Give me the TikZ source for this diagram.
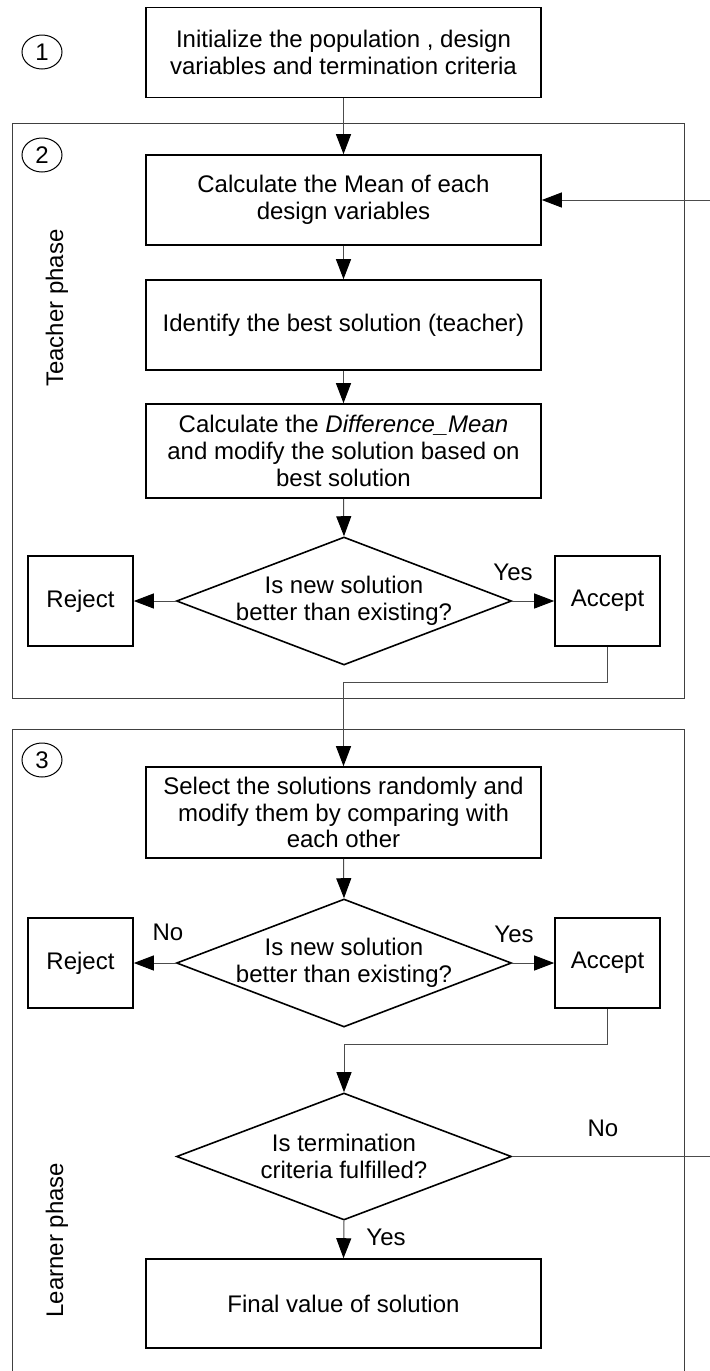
\documentclass[tikz,border=0pt]{standalone}
\usepackage{fontspec}
\setmainfont{Liberation Sans}
\usetikzlibrary{shapes.geometric,arrows.meta,calc}
\definecolor{conn}{gray}{0.3}
\definecolor{grp}{gray}{0.25}
\begin{document}
\begin{tikzpicture}[x=0.5pt,y=-0.5pt,
  txt/.style={font=\fontsize{12}{13.4}\selectfont},
  box/.style={txt,draw=black,line width=0.8pt,minimum width=197.5pt,minimum height=45pt,inner sep=0pt,align=center},
  small/.style={txt,draw=black,line width=0.8pt,minimum width=52.5pt,minimum height=45pt,inner sep=0pt},
  dec/.style={draw=black,line width=0.8pt,diamond,aspect=2.617,minimum width=167.5pt,minimum height=64pt,inner sep=0pt},
  dectext/.style={txt,align=center,inner sep=0pt},
  num/.style={txt,draw=black,line width=0.5pt,ellipse,minimum width=20pt,minimum height=17pt,inner sep=0pt},
  grpbox/.style={draw=grp,line width=0.5pt,minimum width=336pt,inner sep=0pt},
  arr/.style={draw=conn,line width=0.5pt,-{Triangle[length=10pt,width=7.5pt,color=black]}},
  plain/.style={draw=conn,line width=0.5pt},
  lbl/.style={txt,inner sep=0pt},
  phase/.style={rotate=90,inner sep=0pt,font=\fontsize{12}{14}\selectfont}
]
\clip (0,0) rectangle (710,1371);
\fill[white] (0,0) rectangle (710,1371);

% group frames
\node[grpbox,minimum height=287.5pt] (g2) at (348,410.5) {};
\node[grpbox,minimum height=330pt] (g3) at (348,1059) {};

% step numbers
\node[num] (n1) at (42,52) {1};
\node[num] (n2) at (42,155) {2};
\node[num] (n3) at (42,760) {3};

% phase labels
\node[phase] (tp) at (57,308) {Teacher phase};
\node[phase] (lp) at (57,1240) {Learner phase};

% main boxes
\node[box] (init) at (343.5,52.5) {Initialize the population , design\\variables and termination criteria};
\node[box] (mean) at (343.5,200) {Calculate the Mean of each\\design variables};
\node[box] (best) at (343.5,325) {Identify the best solution (teacher)};
\node[box,minimum height=47pt] (diff) at (343.5,451) {Calculate the \textit{Difference\_Mean}\\and modify the solution based on\\best solution};
\node[dec,label={[dectext]center:{Is new solution\\better than existing?}}] (d1) at (344,601) {};
\node[small] (rej1) at (80.5,601) {Reject};
\node[small] (acc1) at (607.5,601) {Accept};

\node[box,minimum height=45.5pt] (sel) at (343.5,812.5) {Select the solutions randomly and\\modify them by comparing with\\each other};
\node[dec,label={[dectext]center:{Is new solution\\better than existing?}}] (d2) at (344,963) {};
\node[small] (rej2) at (80.5,963) {Reject};
\node[small] (acc2) at (607.5,963) {Accept};

\node[dec,minimum height=63.5pt,label={[dectext]center:{Is termination\\criteria fulfilled?}}] (d3) at (344,1156.5) {};
\node[box,minimum height=44.5pt] (fin) at (343.5,1303.5) {Final value of solution};

% labels
\node[lbl] (y1) at (513,572) {Yes};
\node[lbl] (no2) at (168,932) {No};
\node[lbl] (y2) at (514,934) {Yes};
\node[lbl] (no3) at (603,1128) {No};
\node[lbl] (y3) at (386,1237) {Yes};

% junction coordinates
\coordinate (j1) at (607.5,682);
\coordinate (j2) at (607.5,1044);
\coordinate (loopB) at (714,1156.5);
\coordinate (loopT) at (714,200);

% connectors
\draw[arr] (init.south) -- (mean.north);
\draw[arr] (mean.south) -- (best.north);
\draw[arr] (best.south) -- (diff.north);
\draw[arr] (diff.south) -- (d1.north);
\draw[arr] (d1.west) -- (rej1.east);
\draw[arr] (d1.east) -- (acc1.west);
\draw[plain] (acc1.south) -- (j1);
\draw[arr] (j1) -| (sel.north);
\draw[arr] (sel.south) -- (d2.north);
\draw[arr] (d2.west) -- (rej2.east);
\draw[arr] (d2.east) -- (acc2.west);
\draw[plain] (acc2.south) -- (j2);
\draw[arr] (j2) -| (d3.north);
\draw[arr] (d3.south) -- (fin.north);
\draw[plain] (d3.east) -- (loopB) -- (loopT);
\draw[arr] (loopT) -- (mean.east);
\end{tikzpicture}
\end{document}
